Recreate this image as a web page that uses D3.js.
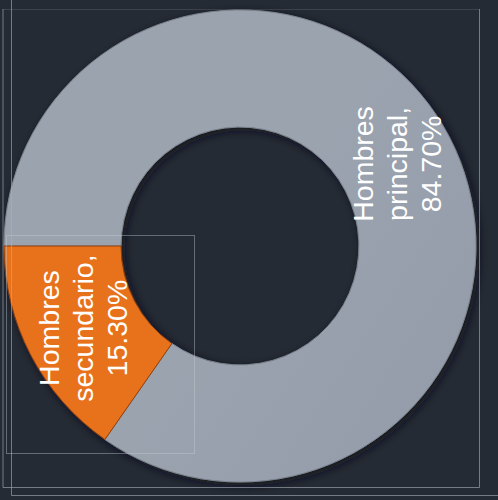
<!DOCTYPE html>
<html>
<head>
<meta charset="utf-8">
<script src="https://cdn.jsdelivr.net/npm/d3@7"></script>
<style>
  html, body { margin: 0; padding: 0; background: #252b35; }
  svg { display: block; }
</style>
</head>
<body>
<svg id="chart" width="498" height="500"></svg>
<script>
// ---- data ----
const categories = ["Hombres principal", "Hombres secundario"];
const values = [84.70, 15.30];
const colors = ["gray", "orange"];

// ---- layout ----
const W = 498, H = 500;
const cx = 240, cy = 246;
const outerR = 236, innerR = 119;

const svg = d3.select("#chart");
svg.append("rect").attr("width", W).attr("height", H).attr("fill", "#252b35");

const defs = svg.append("defs");
const f = defs.append("filter").attr("id", "shadow")
  .attr("x", "-20%").attr("y", "-20%").attr("width", "140%").attr("height", "140%");
f.append("feDropShadow").attr("dx", 3).attr("dy", 3).attr("stdDeviation", 5)
  .attr("flood-color", "#0b0f14").attr("flood-opacity", 0.8);

const gGray = defs.append("linearGradient").attr("id", "grayGrad")
  .attr("gradientUnits", "userSpaceOnUse")
  .attr("x1", cx - outerR).attr("y1", cy - outerR).attr("x2", cx + outerR).attr("y2", cy + outerR * 0.3);
gGray.append("stop").attr("offset", "0%").attr("stop-color", "#9ba3af");
gGray.append("stop").attr("offset", "55%").attr("stop-color", "#939baa");
gGray.append("stop").attr("offset", "100%").attr("stop-color", "#8890a0");

const gOr = defs.append("linearGradient").attr("id", "orangeGrad")
  .attr("gradientUnits", "userSpaceOnUse")
  .attr("x1", cx - outerR).attr("y1", cy).attr("x2", cx - innerR * 0.4).attr("y2", cy + outerR * 0.8);
gOr.append("stop").attr("offset", "0%").attr("stop-color", "#e8721f");
gOr.append("stop").attr("offset", "100%").attr("stop-color", "#e66302");

const fills = { gray: "url(#grayGrad)", orange: "url(#orangeGrad)" };
const edges = { gray: "#7d8590", orange: "#8f400a" };

const data = categories.map((c, i) => ({ name: c, value: values[i], color: colors[i] }));

const pie = d3.pie().sort(null).value(d => d.value)
  .startAngle(-Math.PI / 2).endAngle(Math.PI * 1.5);
const arcs = pie(data);
const arc = d3.arc().innerRadius(innerR).outerRadius(outerR);
const labelArc = d3.arc().innerRadius((innerR + outerR) / 2).outerRadius((innerR + outerR) / 2);

const g = svg.append("g").attr("transform", `translate(${cx},${cy})`);

g.append("g").attr("filter", "url(#shadow)")
  .selectAll("path").data(arcs).join("path")
  .attr("d", arc)
  .attr("fill", d => fills[d.data.color])
  .attr("stroke", d => edges[d.data.color])
  .attr("stroke-width", 1);

// labels (rotated, three lines)
const fmt = d3.format(".2f");
const fontSize = 28.5, lineH = 34;
arcs.forEach(d => {
  const [lx, ly] = labelArc.centroid(d);
  const parts = d.data.name.split(" ");
  const lines = [parts[0], parts.slice(1).join(" ") + ",", fmt(d.data.value) + "%"];
  const t = g.append("text")
    .attr("transform", `translate(${lx},${ly}) rotate(-90)`)
    .attr("text-anchor", "middle")
    .attr("font-family", "Liberation Sans, Arial, sans-serif")
    .attr("font-size", fontSize)
    .attr("fill", "#ffffff");
  lines.forEach((s, i) => {
    t.append("tspan").attr("x", 0)
      .attr("y", (i - 1) * lineH + fontSize * 0.35)
      .text(s);
  });
});

// frame lines
const strong = "rgba(170,176,186,0.6)";
const faint = "rgba(170,176,186,0.18)";
const frame = svg.append("g").attr("fill", "none").attr("stroke-width", 1);
frame.append("path").attr("d", "M3,9 V487.5 H479.5 V9").attr("stroke", strong);
frame.append("path").attr("d", "M3,9.5 H479.5").attr("stroke", faint);
frame.append("path").attr("d", "M11.5,0 V495.5 H498").attr("stroke", strong);
frame.append("rect").attr("x", 6.5).attr("y", 235.5).attr("width", 188).attr("height", 218)
  .attr("stroke", "rgba(200,205,212,0.4)");
</script>
</body>
</html>
